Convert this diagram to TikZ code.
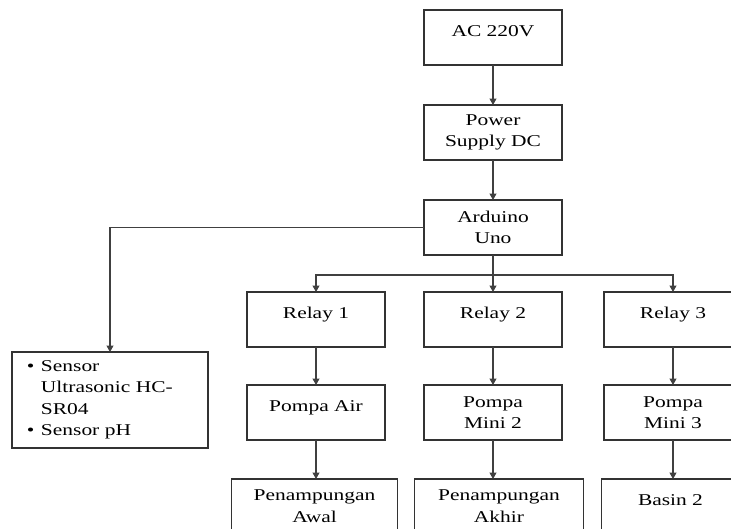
\documentclass[tikz,border=0pt]{standalone}
\usepackage{fontspec}
\setmainfont{Liberation Serif}[FakeStretch=1.3]
\usetikzlibrary{positioning, arrows.meta}

\newcommand{\itm}{\makebox[14pt][l]{\textbullet}}

\begin{document}
\begin{tikzpicture}[x=1pt, y=1pt]
    % settings
    \tikzset{
      >={Triangle[width=7pt,length=6.5pt]},
      every node/.style={font=\fontsize{16.5}{21.5}\selectfont, text=black},
      box/.style={draw=black!80, line width=1.6pt, minimum width=138pt,
                  minimum height=55pt, inner sep=0pt, outer sep=0pt, align=center},
      toptext/.style={text height=26pt, text depth=29pt},
      bbox/.style={box, minimum height=54pt},
      link/.style={->, draw=black!75, line width=1.1pt},
    }
    \useasboundingbox (0,0) rectangle (731,-528);
    \clip (0,0) rectangle (731,-528);

    % power and controller
    \node[box, toptext] (ac) at (493,-37.5) {AC 220V};
    \node[box, below=40pt of ac] (ps) {Power\\Supply DC};
    \node[box, below=40pt of ps] (ard) {Arduino\\Uno};

    % relays
    \node[box, toptext, below=37pt of ard] (r2) {Relay 2};
    \node[box, toptext, left=39pt of r2] (r1) {Relay 1};
    \node[box, toptext, right=42pt of r2] (r3) {Relay 3};

    % pumps
    \node[box, below=38pt of r2] (p2) {Pompa\\Mini 2};
    \node[box, toptext, left=39pt of p2] (p1) {Pompa Air};
    \node[box, right=42pt of p2] (p3) {Pompa\\Mini 3};

    % tanks
    \node[bbox, minimum width=169pt, below=39pt of p2, xshift=6pt] (t2) {Penampungan\\Akhir};
    \node[bbox, minimum width=166pt, left=17pt of t2] (t1) {Penampungan\\Awal};
    \node[bbox, text height=26pt, text depth=28pt, right=18pt of t2] (t3) {Basin 2};

    % sensors
    \node[box, minimum width=196pt, minimum height=96pt, align=left,
          text width=166pt] (sens) at (110,-400)
      {\itm Sensor\\\hspace*{14pt}Ultrasonic HC-\\\hspace*{14pt}SR04\\\itm Sensor pH};

    % connections
    \coordinate[below=20pt of ard] (split);
    \draw[link] (ac) -- (ps);
    \draw[link] (ps) -- (ard);
    \draw[link] (ard) -- (r2);
    \draw[link] (split) -| (r1.north);
    \draw[link] (split) -| (r3.north);
    \draw[link] (ard.west) -| (sens.north);
    \draw[link] (r1) -- (p1);
    \draw[link] (r2) -- (p2);
    \draw[link] (r3) -- (p3);
    \draw[link] (p1) -- (p1 |- t1.north);
    \draw[link] (p2) -- (p2 |- t2.north);
    \draw[link] (p3) -- (p3 |- t3.north);
\end{tikzpicture}
\end{document}
